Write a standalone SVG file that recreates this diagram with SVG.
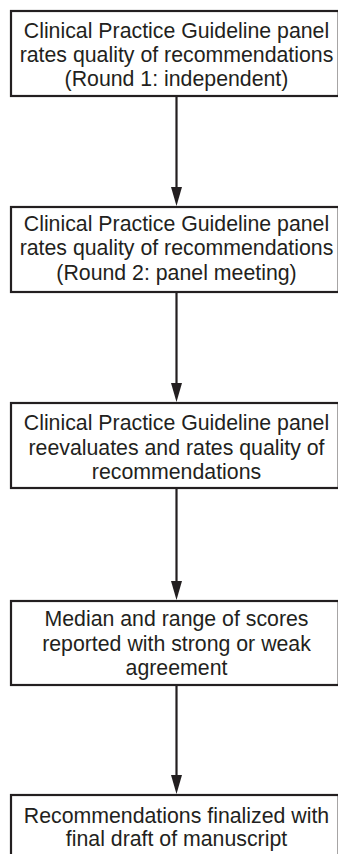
<svg xmlns="http://www.w3.org/2000/svg" width="338" height="854" viewBox="0 0 338 854">
<style>
.box{fill:#fff;stroke:#231f20;stroke-width:2.2}
.t{font-family:"Liberation Sans",Arial,sans-serif;font-size:21.3px;fill:#231f20;text-anchor:middle}
.c{stroke:#231f20;stroke-width:2.2;fill:none}
.h{fill:#231f20}
</style>
<rect width="338" height="854" fill="#fff"/>
<g id="connectors">
<path class="c" d="M176.5,97 V188"/>
<path class="h" d="M171,187 L182,187 L176.5,206 Z"/>
<path class="c" d="M176.5,293 V384"/>
<path class="h" d="M171,383 L182,383 L176.5,402 Z"/>
<path class="c" d="M176.5,489 V582"/>
<path class="h" d="M171,581 L182,581 L176.5,600 Z"/>
<path class="c" d="M176.5,686 V776"/>
<path class="h" d="M171,775 L182,775 L176.5,794 Z"/>
</g>
<g id="n1">
<rect class="box" x="11" y="11" width="327.7" height="85"/>
<text class="t" x="176.5" y="38">Clinical Practice Guideline panel</text>
<text class="t" x="176.5" y="62">rates quality of recommendations</text>
<text class="t" x="176.5" y="86">(Round 1: independent)</text>
</g>
<g id="n2">
<rect class="box" x="11" y="207" width="327.7" height="85"/>
<text class="t" x="176.5" y="231">Clinical Practice Guideline panel</text>
<text class="t" x="176.5" y="255">rates quality of recommendations</text>
<text class="t" x="176.5" y="280">(Round 2: panel meeting)</text>
</g>
<g id="n3">
<rect class="box" x="11" y="403" width="327.7" height="85"/>
<text class="t" x="176.5" y="430">Clinical Practice Guideline panel</text>
<text class="t" x="176.5" y="455">reevaluates and rates quality of</text>
<text class="t" x="176.5" y="479">recommendations</text>
</g>
<g id="n4">
<rect class="box" x="11" y="601" width="327.7" height="84"/>
<text class="t" x="176.5" y="626">Median and range of scores</text>
<text class="t" x="176.5" y="651">reported with strong or weak</text>
<text class="t" x="176.5" y="675">agreement</text>
</g>
<g id="n5">
<rect class="box" x="11" y="795" width="327.7" height="80"/>
<text class="t" x="176.5" y="823">Recommendations finalized with</text>
<text class="t" x="176.5" y="846">final draft of manuscript</text>
</g>
</svg>
